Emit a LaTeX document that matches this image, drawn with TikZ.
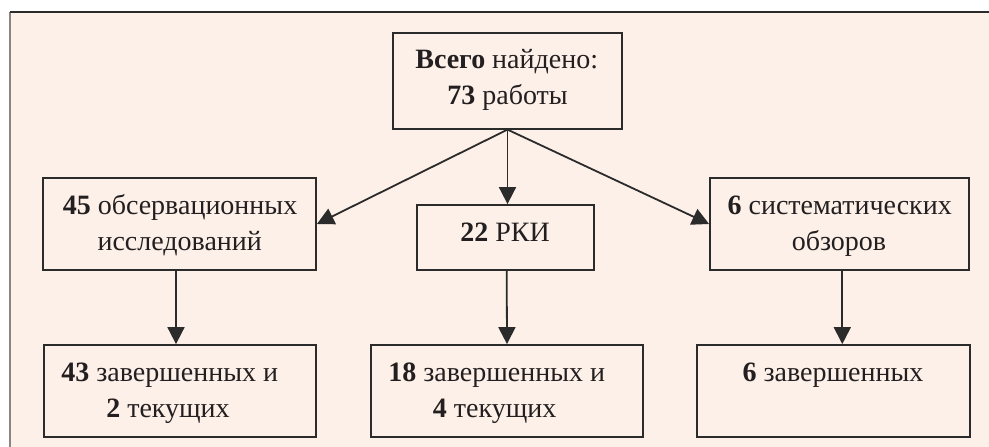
\documentclass[tikz,border=0pt]{standalone}
\usepackage{fontspec}
\setmainfont{Liberation Serif}
\usetikzlibrary{arrows.meta}
\definecolor{bgpeach}{HTML}{FDF0E8}
\definecolor{linec}{HTML}{2B2B2B}
\definecolor{textc}{HTML}{231F20}
\definecolor{leftc}{HTML}{8C8480}
\begin{document}
\begin{tikzpicture}[x=1pt,y=-1pt,
  box/.style={draw=linec, line width=1.8pt, inner sep=0pt},
  arr/.style={draw=linec, line width=1.8pt, -{Triangle[length=17pt,width=17pt]}},
  txt/.style={anchor=base, inner sep=0pt, text=textc, font=\fontsize{28}{34}\selectfont}]
\useasboundingbox (0,0) rectangle (989,447);
\fill[bgpeach] (10,12) rectangle (989,447);
\draw[leftc, line width=2pt] (10,12) -- (10,447);
\draw[linec, line width=1.5pt] (10,12) -- (989,12);
% boxes
\node[box, minimum width=229pt, minimum height=96pt] (top) at (507.5,80.7) {};
\node[box, minimum width=273pt, minimum height=92pt] (lm) at (179.5,224) {};
\node[box, minimum width=177pt, minimum height=65pt] (mm) at (505.5,237.5) {};
\node[box, minimum width=259pt, minimum height=92pt] (rm) at (839.5,224) {};
\node[box, minimum width=272pt, minimum height=92pt] (bl) at (180,391) {};
\node[box, minimum width=272pt, minimum height=92pt] (bm) at (507,391) {};
\node[box, minimum width=273pt, minimum height=92pt] (br) at (833.5,391) {};
% texts
\node[txt] (t1) at (506.7,68) {\textbf{Всего} найдено:};
\node[txt] (t2) at (507.5,104) {\textbf{73} работы};
\node[txt] (t3) at (180,214) {\textbf{45} обсервационных};
\node[txt] (t4) at (179.7,250) {исследований};
\node[txt] (t5) at (505,241) {\textbf{22} РКИ};
\node[txt] (t6) at (839.7,214) {\textbf{6} систематических};
\node[txt] (t7) at (839,250) {обзоров};
\node[txt] (t8) at (169.7,381) {\textbf{43} завершенных и};
\node[txt] (t9) at (168,417) {\textbf{2} текущих};
\node[txt] (t10) at (496.7,381) {\textbf{18} завершенных и};
\node[txt] (t11) at (494.7,417) {\textbf{4} текущих};
\node[txt] (t12) at (833,381) {\textbf{6} завершенных};
% arrows
\draw[arr] (top.south) -- (lm.east);
\draw[arr] (top.south) -- (rm.west);
\draw[arr] (top.south) -- (top.south |- mm.north);
\draw[arr] ([xshift=-3.5pt]lm.south) -- ([xshift=-4pt]bl.north);
\draw[arr] ([xshift=1.2pt]mm.south) -- (bm.north);
\draw[arr] ([xshift=2.8pt]rm.south) -- ([xshift=8.8pt]br.north);
\end{tikzpicture}
\end{document}
